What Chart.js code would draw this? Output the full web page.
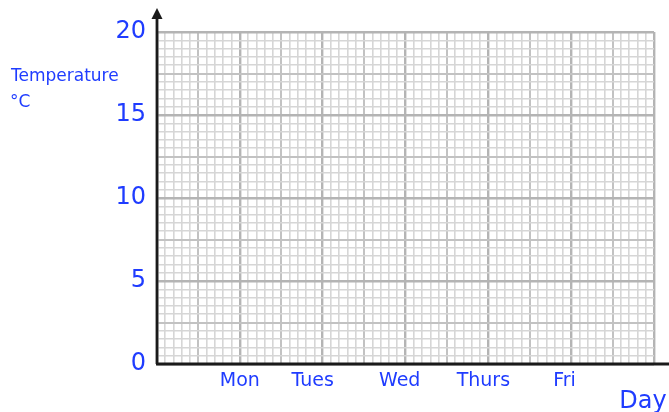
<!DOCTYPE html>
<html>
<head>
<meta charset="utf-8">
<script src="https://cdn.jsdelivr.net/npm/chart.js@4.4.0/dist/chart.umd.min.js"></script>
<style>
  html, body { margin: 0; padding: 0; background: #fff; }
  #wrap { width: 669px; height: 412px; position: relative; }
</style>
</head>
<body>
<div id="wrap"><canvas id="chart" width="669" height="412"></canvas></div>
<script>
'use strict';

// day labels and where they sit along the x grid (in small squares from the axis)
var days = ['Mon', 'Tues', 'Wed', 'Thurs', 'Fri'];
var dayPositions = [10, 18.8, 29.3, 39.4, 49.2];
var yLabels = [0, 5, 10, 15, 20];
var xMax = 60;
var yMax = 20;

var blue = '#1f3cff';
var font = "'Comic Sans MS', 'DejaVu Sans', sans-serif";

function gridColor(v, major, medium) {
    if (v % major === 0) return '#b4b4b4';
    if (v % medium === 0) return '#c2c2c2';
    return '#d6d6d6';
}
function gridWidth(v, major, medium) {
    if (v % major === 0) return 2.4;
    if (v % medium === 0) return 2;
    return 1.6;
}

// axis lines, the arrow head and the free-standing titles
var axesPlugin = {
    id: 'axes',
    afterDraw: function (chart) {
        var ctx = chart.ctx;
        var x = chart.scales.x, y = chart.scales.y;
        var x0 = x.getPixelForValue(0), y0 = y.getPixelForValue(0);
        ctx.save();
        ctx.strokeStyle = '#1a1a1a';
        ctx.fillStyle = '#1a1a1a';
        ctx.lineWidth = 2.8;
        ctx.beginPath();
        ctx.moveTo(x0, y0);
        ctx.lineTo(x0, 16);
        ctx.moveTo(x0 - 1, y0);
        ctx.lineTo(chart.width, y0);
        ctx.stroke();
        ctx.beginPath();
        ctx.moveTo(x0, 8);
        ctx.lineTo(x0 - 5.5, 19);
        ctx.lineTo(x0 + 5.5, 19);
        ctx.closePath();
        ctx.fill();

        ctx.fillStyle = blue;
        ctx.textBaseline = 'alphabetic';
        ctx.textAlign = 'left';
        ctx.font = '17px ' + font;
        ctx.fillText('Temperature', 11, 81);
        ctx.fillText('°C', 10, 107);
        ctx.font = '24px ' + font;
        ctx.textAlign = 'center';
        ctx.fillText('Day', 643, 408);
        ctx.restore();
    }
};

new Chart(document.getElementById('chart'), {
    type: 'scatter',
    data: { datasets: [] },
    options: {
        responsive: false,
        animation: false,
        layout: { padding: { top: 32, right: 15, left: 0, bottom: 0 } },
        plugins: { legend: { display: false }, tooltip: { enabled: false } },
        scales: {
            x: {
                type: 'linear', min: 0, max: xMax, position: 'bottom',
                border: { display: false },
                grid: {
                    drawTicks: false,
                    color: function (c) { return gridColor(c.tick.value, 10, 5); },
                    lineWidth: function (c) { return gridWidth(c.tick.value, 10, 5); }
                },
                ticks: { display: false, stepSize: 1, autoSkip: false },
                afterFit: function (s) { s.height = 0; }
            },
            days: {
                type: 'linear', min: 0, max: xMax, position: 'bottom',
                border: { display: false },
                grid: { display: false, drawTicks: false },
                afterBuildTicks: function (s) {
                    s.ticks = dayPositions.map(function (v) { return { value: v }; });
                },
                ticks: {
                    autoSkip: false, maxRotation: 0, padding: 6,
                    color: blue, font: { family: font, size: 19 },
                    callback: function (v, i) { return days[i]; }
                },
                afterFit: function (s) { s.height = 48; }
            },
            y: {
                type: 'linear', min: 0, max: yMax,
                border: { display: false },
                grid: {
                    drawTicks: false,
                    color: function (c) { return gridColor(c.tick.value, 5, 2.5); },
                    lineWidth: function (c) { return gridWidth(c.tick.value, 5, 2.5); }
                },
                ticks: {
                    stepSize: 0.5, autoSkip: false, padding: 11,
                    color: blue, font: { family: font, size: 24 },
                    callback: function (v) { return yLabels.indexOf(v) >= 0 ? String(v) : ''; }
                },
                afterFit: function (s) { s.width = 157; }
            }
        }
    },
    plugins: [axesPlugin]
});
</script>
</body>
</html>
